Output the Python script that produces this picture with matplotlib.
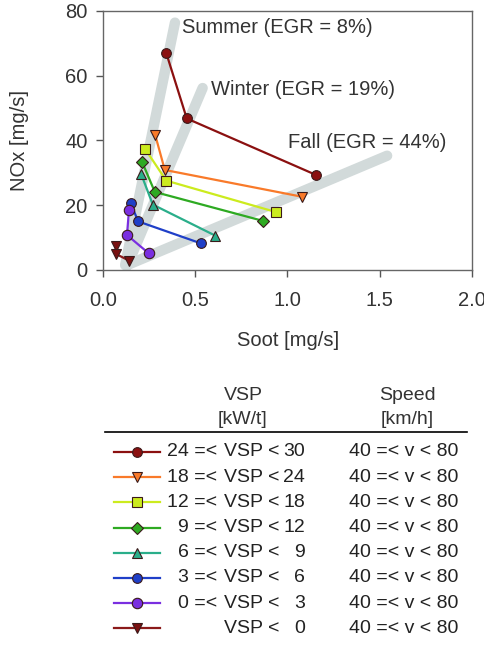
import matplotlib.pyplot as plt
import numpy as np

plt.rcParams['font.family'] = ['Liberation Sans', 'DejaVu Sans']

# Soot / NOx per VSP bin (three seasons each: summer, winter, fall)
soot_vsp_24_30 = [0.343, 0.454, 1.153]
nox_vsp_24_30 = [67.0, 46.8, 29.4]
soot_vsp_18_24 = [0.283, 0.335, 1.081]
nox_vsp_18_24 = [41.7, 30.9, 22.6]
soot_vsp_12_18 = [0.227, 0.343, 0.937]
nox_vsp_12_18 = [37.5, 27.6, 17.9]
soot_vsp_9_12 = [0.211, 0.281, 0.865]
nox_vsp_9_12 = [33.5, 24.1, 15.2]
soot_vsp_6_9 = [0.207, 0.270, 0.609]
nox_vsp_6_9 = [29.6, 20.2, 10.6]
soot_vsp_3_6 = [0.150, 0.191, 0.532]
nox_vsp_3_6 = [20.6, 15.0, 8.2]
soot_vsp_0_3 = [0.141, 0.130, 0.249]
nox_vsp_0_3 = [18.6, 10.8, 5.1]
soot_vsp_neg = [0.069, 0.072, 0.141]
nox_vsp_neg = [7.5, 4.9, 2.9]

vsp_lower = ['24', '18', '12', '9', '6', '3', '0', '']
vsp_upper = ['30', '24', '18', '12', '9', '6', '3', '0']
speed_labels = ['40 =< v < 80'] * 8

# season guide lines (start -> end)
season_names = ['Summer (EGR = 8%)', 'Winter (EGR = 19%)', 'Fall (EGR = 44%)']
guide_soot = [[0.12, 0.39], [0.13, 0.54], [0.13, 1.54]]
guide_nox = [[1.5, 76.4], [1.2, 56.2], [1.5, 35.3]]
label_soot = [0.43, 0.585, 1.005]
label_nox = [74.9, 55.9, 39.4]

series = [
    (soot_vsp_24_30, nox_vsp_24_30, '#8B1010', '#8B1010', 'o', 7),
    (soot_vsp_18_24, nox_vsp_18_24, '#F97A2A', '#F97A2A', 'v', 7.5),
    (soot_vsp_12_18, nox_vsp_12_18, '#CCEB1E', '#CCEB1E', 's', 6.5),
    (soot_vsp_9_12, nox_vsp_9_12, '#2EAA22', '#2EAA22', 'D', 6),
    (soot_vsp_6_9, nox_vsp_6_9, '#2AAE8A', '#2AAE8A', '^', 7.5),
    (soot_vsp_3_6, nox_vsp_3_6, '#1F3FC8', '#1F3FC8', 'o', 7),
    (soot_vsp_0_3, nox_vsp_0_3, '#7A2FE0', '#7A2FE0', 'o', 7.5),
    (soot_vsp_neg, nox_vsp_neg, '#8B1A1A', '#7A1010', 'v', 7.5),
]

W, H = 485, 646
fig = plt.figure(figsize=(W / 100, H / 100), dpi=100)


def px(x, y):
    # pixel position -> figure fraction
    return x / W, 1 - y / H


ax = fig.add_axes([103 / W, 1 - 270 / H, (472 - 103) / W, (270 - 11) / H])

for gx, gy in zip(guide_soot, guide_nox):
    ax.plot(gx, gy, color='#D2DADA', lw=7.5, solid_capstyle='round', zorder=1)
for name, lx, ly in zip(season_names, label_soot, label_nox):
    ax.text(lx, ly, name, fontsize=14.5, color='#333333', va='center', ha='left', zorder=2)

for sx, sy, lc, fc, mk, ms in series:
    ax.plot(sx, sy, color=lc, lw=1.6, marker=mk, ms=ms, mfc=fc,
            mec='#3a1a1a', mew=0.8, zorder=3)

ax.set_xlim(0, 2.0)
ax.set_ylim(0, 80)
ax.set_xticks(np.arange(0, 2.01, 0.5))
ax.set_yticks(np.arange(0, 81, 20))
ax.xaxis.set_major_formatter(plt.FormatStrFormatter('%.1f'))
ax.tick_params(axis='both', direction='out', length=5, width=1, color='#555555',
               labelsize=14.5, labelcolor='#333333', pad=6)
ax.tick_params(axis='x', pad=10)
for sp in ax.spines.values():
    sp.set_color('#666666')
    sp.set_linewidth(1)

fig.text(*px(20, 140), 'NOx [mg/s]', rotation=90, fontsize=14.5, color='#333333',
         ha='center', va='center')
fig.text(*px(288, 340), 'Soot [mg/s]', fontsize=14.5, color='#333333',
         ha='center', va='center')

# legend table
fig.text(*px(243, 395), 'VSP', fontsize=14, color='#333333', ha='center', va='center')
fig.text(*px(243, 419), '[kW/t]', fontsize=14, color='#333333', ha='center', va='center')
fig.text(*px(407, 395), 'Speed', fontsize=14, color='#333333', ha='center', va='center')
fig.text(*px(407, 419), '[km/h]', fontsize=14, color='#333333', ha='center', va='center')
fig.add_artist(plt.Line2D([105 / W, 467 / W], [1 - 432 / H] * 2, color='black', lw=1.2))

row_y = 452
for i, (sx, sy, lc, fc, mk, ms) in enumerate(series):
    y = row_y + i * 25.2
    fig.add_artist(plt.Line2D([114 / W, 160 / W], [1 - y / H] * 2, color=lc, lw=1.6))
    fig.add_artist(plt.Line2D([137 / W], [1 - y / H], color=lc, marker=mk, ms=ms,
                              mfc=fc, mec='#3a1a1a', mew=0.8))
    if vsp_lower[i]:
        fig.text(*px(217, y), vsp_lower[i] + ' =<', fontsize=14, color='#222222',
                 ha='right', va='center')
    fig.text(*px(224, y), 'VSP <', fontsize=14, color='#222222', ha='left', va='center')
    fig.text(*px(305, y), vsp_upper[i], fontsize=14, color='#222222', ha='right', va='center')
    fig.text(*px(458, y), speed_labels[i], fontsize=14, color='#222222', ha='right', va='center')

fig.savefig('out.png', dpi=100)
